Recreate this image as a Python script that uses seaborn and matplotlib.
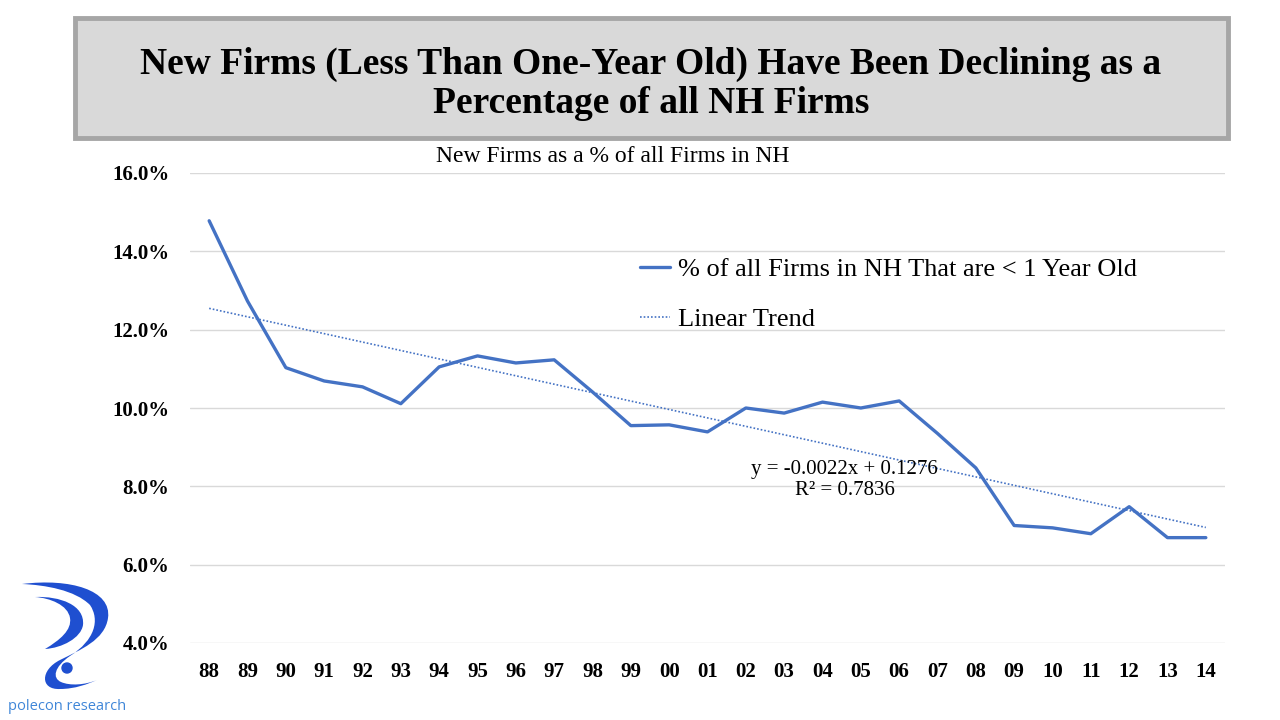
import numpy as np
import pandas as pd
import matplotlib
matplotlib.use("Agg")
import matplotlib.pyplot as plt
import seaborn as sns
from matplotlib.patches import Rectangle, Circle, PathPatch
from matplotlib.path import Path
from matplotlib.lines import Line2D

# --- data ---
years = ["88", "89", "90", "91", "92", "93", "94", "95", "96", "97", "98", "99", "00",
         "01", "02", "03", "04", "05", "06", "07", "08", "09", "10", "11", "12", "13", "14"]
share_new = [14.78, 12.73, 11.03, 10.69, 10.54, 10.11, 11.05, 11.33, 11.15, 11.23, 10.41,
             9.55, 9.57, 9.39, 10.00, 9.87, 10.15, 10.00, 10.18, 9.35, 8.47, 7.00, 6.94,
             6.79, 7.48, 6.69, 6.69]
y_ticks = [4, 6, 8, 10, 12, 14, 16]

title = "New Firms (Less Than One-Year Old) Have Been Declining as a\nPercentage of all NH Firms"
subtitle = "New Firms as a % of all Firms in NH"
series_label = "% of all Firms in NH That are < 1 Year Old"
trend_label = "Linear Trend"
equation = "y = -0.0022x + 0.1276\nR² = 0.7836"

df = pd.DataFrame({"year": years, "share": share_new})
df["idx"] = np.arange(len(df))

# linear fit through the series (Excel style trendline)
slope, intercept = np.polyfit(df["idx"], df["share"], 1)
df["trend"] = intercept + slope * df["idx"]

blue = "#4472C4"
serif = ["Liberation Serif", "DejaVu Serif"]

sns.set_style("white")
plt.rcParams["font.family"] = serif
plt.rcParams["text.color"] = "black"
plt.rcParams["xtick.color"] = "black"
plt.rcParams["ytick.color"] = "black"

fig = plt.figure(figsize=(12.8, 7.2), dpi=100)
ax = fig.add_axes([190 / 1280, 1 - 643 / 720, 1035 / 1280, 470 / 720])

sns.lineplot(data=df, x="idx", y="share", ax=ax, color=blue, linewidth=2.4)
sns.lineplot(data=df, x="idx", y="trend", ax=ax, color=blue, linewidth=1.2,
             linestyle=(0, (1, 1.2)))

ax.set_xlim(-0.5, len(years) - 0.5)
ax.set_ylim(4, 16)
ax.set_xticks(df["idx"])
ax.set_xticklabels(years, fontsize=15, fontweight="bold")
ax.set_yticks(y_ticks)
ax.set_yticklabels([f"{v:.1f}%" for v in y_ticks], fontsize=15, fontweight="bold")
ax.tick_params(axis="both", length=0)
ax.tick_params(axis="x", pad=14)
ax.tick_params(axis="y", pad=15)
ax.set_xlabel("")
ax.set_ylabel("")
ax.grid(axis="y", color="#D9D9D9", linewidth=1)
for s in ax.spines.values():
    s.set_visible(False)

handles = [Line2D([], [], color=blue, linewidth=2.4),
           Line2D([], [], color=blue, linewidth=1.2, linestyle=(0, (1, 1.2)))]
ax.legend(handles, [series_label, trend_label], loc="center left",
          bbox_to_anchor=(0.422, 0.742), frameon=False, fontsize=19,
          handlelength=1.15, handletextpad=0.3, labelspacing=1.0, borderpad=0)

ax.text(16.58, 8.16, equation, ha="center", va="center", fontsize=15,
        linespacing=1.2)

# title box
fig.patches.append(Rectangle((75 / 1280, 1 - 138 / 720), 1153 / 1280, 120 / 720,
                             transform=fig.transFigure, facecolor="#D9D9D9",
                             edgecolor="#A6A6A6", linewidth=3.5, zorder=0))
fig.text(651 / 1280, 1 - 84 / 720, title, ha="center", va="center",
         fontsize=27, fontweight="bold", linespacing=1.15)
fig.text(613 / 1280, 1 - 157 / 720, subtitle, ha="center", va="center", fontsize=17)

# logo (rough sketch), drawn in pixel-like coordinates
lax = fig.add_axes([0, 0, 150 / 1280, 150 / 720])
lax.set_xlim(0, 150)
lax.set_ylim(720, 570)
lax.axis("off")
logo_blue = "#1F4FD0"
C, M = Path.CURVE4, Path.MOVETO
outer = Path(
    [(22, 584), (70, 578), (112, 590), (108, 618),
     (105, 640), (80, 650), (60, 660),
     (40, 670), (40, 690), (60, 689),
     (75, 689), (88, 684), (97, 680),
     (85, 685), (70, 686), (61, 682),
     (52, 678), (54, 667), (70, 656),
     (95, 640), (100, 620), (90, 605),
     (75, 590), (45, 585), (22, 584)],
    [M] + [C] * 24)
inner = Path(
    [(35, 597), (60, 596), (85, 605), (83, 625),
     (81, 638), (62, 648), (45, 649),
     (60, 640), (72, 630), (70, 618),
     (68, 605), (50, 598), (35, 597)],
    [M] + [C] * 12)
lax.add_patch(PathPatch(outer, facecolor=logo_blue, edgecolor="none"))
lax.add_patch(PathPatch(inner, facecolor=logo_blue, edgecolor="none"))
lax.add_patch(Circle((67, 668), 5, color=logo_blue))
fig.text(67 / 1280, 1 - 706 / 720, "polecon research", ha="center", va="center",
         fontsize=10.5, color="#3F86D8", family=["Open Sans", "DejaVu Sans"])

fig.savefig("out.png", dpi=100)
